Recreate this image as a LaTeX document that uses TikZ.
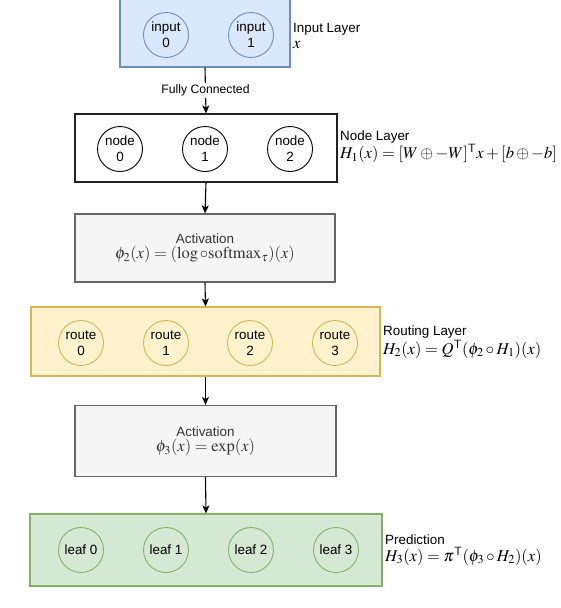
\documentclass[tikz,border=0pt]{standalone}
\usepackage{mathptmx}
\usepackage{fontspec}
\setmainfont{Liberation Serif}
\setsansfont{Liberation Sans}
\usetikzlibrary{arrows.meta}
\definecolor{bluefill}{HTML}{DAE8FC}
\definecolor{bluedraw}{HTML}{6C8EBF}
\definecolor{yelfill}{HTML}{FFF2CC}
\definecolor{yeldraw}{HTML}{D6B656}
\definecolor{grnfill}{HTML}{D5E8D4}
\definecolor{grndraw}{HTML}{82B366}
\definecolor{gryfill}{HTML}{F5F5F5}
\definecolor{grydraw}{HTML}{666666}
\definecolor{grytext}{HTML}{333333}
\definecolor{nodedraw}{HTML}{222222}
\newcommand{\mfs}{\fontsize{16.5}{18}\selectfont}
\tikzset{
  txt/.style={font=\sffamily\fontsize{13.4}{16}\selectfont},
  layerbox/.style={rectangle, line width=1.1pt, minimum height=68pt, inner sep=0pt},
  unit/.style={circle, line width=0.9pt, minimum size=45pt, inner sep=0pt, align=center, txt},
  arr/.style={line width=1.1pt, -{Stealth[length=8pt,width=7pt,inset=2pt]}},
  sidelabel/.style={anchor=west, align=left, inner sep=0pt, txt}
}
\begin{document}
\begin{tikzpicture}[x=1pt,y=-1pt]
\useasboundingbox (0,0) rectangle (560,608);

% Input layer
\node[layerbox, fill=bluefill, draw=bluedraw, minimum width=170pt, minimum height=70pt] (inbox) at (205,32) {};
\node[unit, draw=bluedraw] (in0) at (166,35) {input\\0};
\node[unit, draw=bluedraw] (in1) at (251,35) {input\\1};
\node[sidelabel] (inlbl) at (293,36) {Input Layer\\[0pt]{\mfs$x$}};

% Node layer
\node[layerbox, fill=white, draw=nodedraw, minimum width=262pt] (nodebox) at (206,148) {};
\node[unit, draw=black] (n0) at (120,149) {node\\0};
\node[unit, draw=black] (n1) at (205,149) {node\\1};
\node[unit, draw=black] (n2) at (290,149) {node\\2};
\node[sidelabel] (nodelbl) at (340,147) {Node Layer\\[0pt]{\mfs$H_1(x)=[W\oplus -W]^{\mathsf{T}}x+[b\oplus -b]$}};

% Activation 1
\node[layerbox, fill=gryfill, draw=grydraw, minimum width=260pt, align=center, text=grytext] (act1) at (205,248)
  {\sffamily\fontsize{13.4}{16}\selectfont Activation\\[2pt]{\mfs$\phi_2(x)=(\log\circ\mathrm{softmax}_\tau)(x)$}};

% Routing layer
\node[layerbox, fill=yelfill, draw=yeldraw, minimum width=349pt, minimum height=69pt] (routebox) at (205.5,341.5) {};
\node[unit, draw=yeldraw] (r0) at (81,343) {route\\0};
\node[unit, draw=yeldraw] (r1) at (166,343) {route\\1};
\node[unit, draw=yeldraw] (r2) at (250,343) {route\\2};
\node[unit, draw=yeldraw] (r3) at (335,343) {route\\3};
\node[sidelabel] (routelbl) at (383,342) {Routing Layer\\[1pt]{\mfs$H_2(x)=Q^{\mathsf{T}}(\phi_2\circ H_1)(x)$}};

% Activation 2
\node[layerbox, fill=gryfill, draw=grydraw, minimum width=261pt, minimum height=71pt, align=center, text=grytext] (act2) at (205.5,441)
  {\sffamily\fontsize{13.4}{16}\selectfont Activation\\[2pt]{\mfs$\phi_3(x)=\exp(x)$}};

% Prediction layer
\node[layerbox, fill=grnfill, draw=grndraw, minimum width=352pt, minimum height=72pt] (leafbox) at (206,550) {};
\node[unit, draw=grndraw] (l0) at (81,550) {leaf 0};
\node[unit, draw=grndraw] (l1) at (166,550) {leaf 1};
\node[unit, draw=grndraw] (l2) at (251,550) {leaf 2};
\node[unit, draw=grndraw] (l3) at (336,550) {leaf 3};
\node[sidelabel] (predlbl) at (385,550) {Prediction\\[1pt]{\mfs$H_3(x)=\pi^{\mathsf{T}}(\phi_3\circ H_2)(x)$}};

% Connectors
\draw[arr] (inbox.south) -- node[fill=white, inner sep=1.5pt, font=\sffamily\fontsize{12.2}{14}\selectfont] (fc) {Fully Connected} (nodebox.north);
\draw[arr] (nodebox.south) -- (act1.north);
\draw[arr] (act1.south) -- (routebox.north);
\draw[arr] (routebox.south) -- (act2.north);
\draw[arr] (act2.south) -- (leafbox.north);
\end{tikzpicture}
\end{document}
